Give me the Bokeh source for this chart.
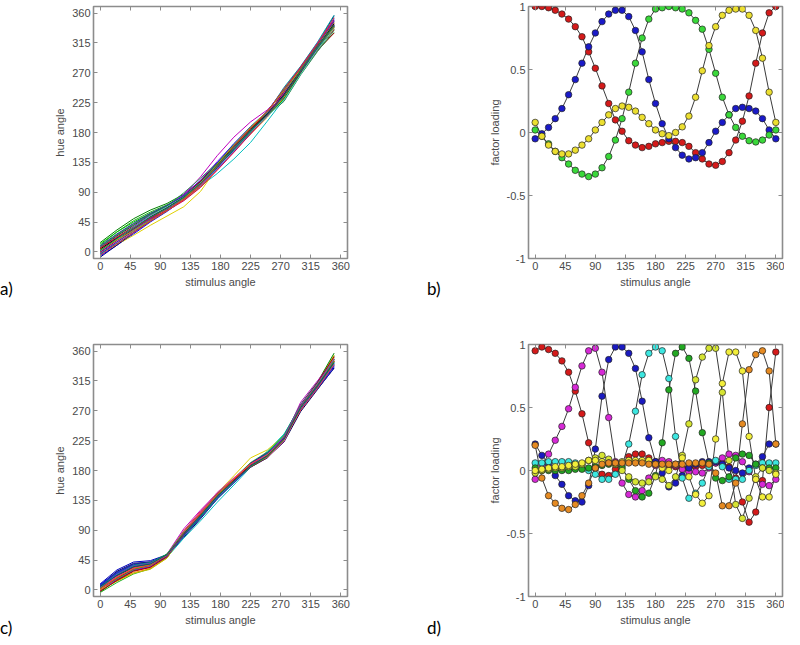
from bokeh.plotting import figure
from bokeh.layouts import column, row
from bokeh.models import FixedTicker, LinearAxis, NumeralTickFormatter, Range1d, Div
from bokeh.embed import file_html
from bokeh.resources import INLINE

# ---------------- data ----------------
angle_ticks = [0, 45, 90, 135, 180, 225, 270, 315, 360]
loading_ticks = [-1, -0.5, 0, 0.5, 1]
panel_names = ["a)", "b)", "c)", "d)"]

# panel a / c: individual hue-angle curves, sampled every 25 deg of stimulus angle
stim_curve = [0, 25, 50, 75, 100, 125, 150, 175, 200, 225, 250, 275, 300, 325, 350]

hue_a = [
    [14, 33, 50, 63, 73, 87, 107, 133, 159, 184, 207, 229, 270, 305, 336],
    [10, 30, 47, 60, 71, 85, 105, 131, 158, 184, 208, 236, 273, 309, 342],
    [-6, 10, 27, 45, 61, 79, 102, 131, 160, 187, 212, 246, 279, 315, 350],
    [2, 19, 35, 51, 65, 82, 104, 132, 160, 186, 210, 238, 273, 308, 335],
    [0, 17, 33, 50, 65, 86, 113, 145, 173, 196, 214, 240, 272, 309, 343],
    [5, 21, 37, 53, 68, 83, 99, 118, 140, 165, 197, 230, 271, 307, 340],
    [-2, 11, 25, 40, 54, 68, 91, 127, 156, 183, 210, 245, 277, 312, 345],
    [6, 24, 40, 56, 69, 85, 106, 132, 158, 183, 205, 232, 270, 306, 339],
    [1, 18, 34, 51, 66, 83, 104, 129, 155, 180, 204, 234, 273, 311, 348],
    [-8, 10, 29, 47, 63, 80, 101, 127, 154, 181, 206, 242, 276, 314, 356],
    [4, 22, 38, 54, 67, 80, 99, 124, 151, 178, 204, 238, 276, 312, 338],
    [8, 26, 42, 57, 70, 85, 105, 131, 157, 182, 205, 228, 268, 303, 331],
    [3, 21, 38, 55, 69, 86, 108, 136, 163, 188, 210, 237, 272, 307, 341],
    [-4, 15, 32, 49, 64, 78, 98, 128, 156, 184, 210, 248, 280, 316, 357],
    [5, 22, 37, 52, 63, 78, 98, 124, 151, 178, 203, 233, 273, 310, 346],
    [0, 18, 35, 51, 66, 84, 106, 134, 161, 186, 208, 236, 270, 304, 330],
    [7, 25, 41, 56, 69, 89, 111, 134, 159, 183, 205, 227, 267, 302, 334],
    [2, 19, 36, 52, 66, 81, 100, 125, 152, 179, 205, 240, 277, 315, 352],
    [-1, 15, 31, 48, 63, 80, 102, 130, 159, 187, 212, 244, 276, 310, 340],
    [4, 21, 37, 53, 67, 83, 104, 131, 158, 184, 208, 237, 274, 309, 344],
    [12, 30, 45, 58, 69, 83, 103, 128, 154, 180, 204, 231, 269, 306, 340],
    [-3, 13, 29, 46, 62, 80, 104, 134, 163, 189, 212, 244, 278, 313, 347],
    [6, 22, 36, 50, 62, 77, 97, 123, 150, 178, 205, 241, 279, 314, 349],
    [1, 19, 37, 54, 68, 84, 104, 130, 156, 181, 204, 229, 268, 305, 337],
    [3, 18, 32, 47, 62, 80, 103, 132, 161, 188, 212, 243, 275, 309, 339],
    [9, 27, 43, 58, 70, 84, 103, 128, 155, 182, 207, 235, 272, 308, 341],
    [-5, 12, 29, 46, 62, 79, 101, 129, 158, 186, 211, 246, 278, 314, 353],
    [2, 20, 36, 52, 66, 82, 103, 130, 157, 183, 207, 236, 274, 310, 342],
]

hue_c = [
    [9, 30, 42, 44, 53, 82, 109, 139, 163, 186, 202, 225, 271, 305, 339],
    [7, 28, 40, 42, 51, 79, 107, 137, 162, 185, 200, 223, 269, 302, 335],
    [-4, 11, 24, 32, 49, 86, 115, 144, 167, 190, 206, 231, 278, 312, 353],
    [2, 16, 29, 34, 52, 89, 118, 146, 168, 191, 205, 230, 279, 310, 347],
    [-1, 14, 26, 32, 48, 87, 117, 145, 167, 190, 205, 229, 275, 307, 344],
    [5, 21, 34, 39, 49, 78, 104, 132, 158, 185, 209, 235, 277, 309, 343],
    [1, 18, 32, 39, 54, 87, 115, 146, 172, 199, 211, 232, 277, 311, 354],
    [3, 21, 34, 39, 53, 86, 114, 142, 165, 188, 202, 227, 275, 309, 348],
    [6, 24, 36, 40, 52, 83, 111, 140, 163, 186, 200, 225, 273, 308, 342],
    [-3, 15, 29, 35, 51, 87, 116, 145, 167, 190, 205, 230, 279, 313, 357],
    [2, 19, 32, 37, 54, 92, 120, 146, 165, 185, 199, 229, 283, 315, 348],
    [8, 26, 38, 41, 52, 82, 110, 140, 165, 190, 206, 230, 272, 304, 337],
    [1, 18, 31, 37, 52, 85, 113, 142, 165, 187, 201, 226, 273, 307, 345],
    [4, 22, 35, 39, 54, 88, 116, 145, 168, 192, 208, 233, 278, 310, 350],
    [3, 21, 34, 38, 50, 82, 110, 139, 162, 185, 199, 224, 272, 306, 340],
    [-1, 16, 30, 35, 50, 86, 116, 144, 167, 190, 204, 229, 277, 311, 351],
    [5, 25, 37, 41, 52, 82, 110, 139, 163, 187, 203, 226, 273, 306, 342],
    [2, 19, 33, 38, 52, 85, 113, 142, 165, 188, 203, 228, 275, 308, 345],
    [6, 27, 39, 42, 53, 83, 111, 141, 166, 191, 207, 229, 272, 303, 334],
    [0, 13, 25, 31, 48, 84, 113, 143, 167, 189, 202, 226, 275, 310, 350],
    [4, 20, 32, 37, 53, 88, 117, 147, 169, 189, 200, 224, 274, 309, 346],
    [3, 23, 37, 41, 54, 84, 110, 138, 162, 187, 206, 233, 280, 313, 347],
    [-2, 14, 28, 34, 50, 84, 114, 144, 166, 188, 203, 230, 279, 312, 352],
    [7, 25, 36, 39, 51, 81, 108, 137, 161, 186, 204, 228, 272, 305, 339],
    [2, 17, 31, 37, 53, 87, 115, 143, 164, 186, 201, 227, 276, 309, 345],
    [4, 23, 36, 40, 52, 85, 112, 140, 163, 187, 204, 231, 279, 311, 348],
    [1, 19, 33, 38, 52, 86, 115, 144, 167, 190, 204, 227, 271, 304, 340],
    [5, 22, 35, 39, 53, 85, 112, 141, 164, 187, 202, 227, 275, 308, 343],
]

curve_colors_a = ["#008000", "#20b020", "#0000ff", "#ff0000", "#c000c0", "#00bfbf",
                  "#e0d000", "#202020", "#1f3fbf", "#000080", "#c02020", "#40a040",
                  "#7f00ff", "#00a0a0", "#ff7f00", "#a00000", "#2e8b57", "#4060ff",
                  "#8b008b", "#000000", "#00c000", "#0050c0", "#d00060", "#60c0c0",
                  "#b0b000", "#3030a0", "#e03030", "#208040"]
curve_colors_c = ["#0000c0", "#000060", "#20b020", "#ff0000", "#ff8000", "#00c0c0",
                  "#e0d000", "#202020", "#3050ff", "#008000", "#c000c0", "#0000ff",
                  "#a00000", "#40c040", "#404040", "#7f00ff", "#0070a0", "#d02020",
                  "#1f1fa0", "#c0c000", "#e040a0", "#00a060", "#b00000", "#2040c0",
                  "#60a000", "#8040c0", "#ff4040", "#006060"]

# panel b / d: factor loadings every 10 deg
stim_pts = [0, 10, 20, 30, 40, 50, 60, 70, 80, 90, 100, 110, 120, 130, 140, 150, 160, 170,
            180, 190, 200, 210, 220, 230, 240, 250, 260, 270, 280, 290, 300, 310, 320, 330,
            340, 350, 360]

red_b = [1.00, 1.00, 0.99, 0.97, 0.94, 0.90, 0.84, 0.76, 0.64, 0.51, 0.37, 0.23, 0.10, 0.01,
         -0.065, -0.10, -0.12, -0.11, -0.09, -0.08, -0.07, -0.07, -0.08, -0.11, -0.16, -0.21,
         -0.25, -0.26, -0.23, -0.16, -0.06, 0.09, 0.29, 0.55, 0.79, 0.95, 1.00]
blue_b = [-0.05, -0.01, 0.04, 0.11, 0.19, 0.30, 0.42, 0.55, 0.68, 0.79, 0.88, 0.94, 0.97, 0.97,
          0.92, 0.81, 0.64, 0.42, 0.23, 0.07, -0.05, -0.12, -0.18, -0.21, -0.20, -0.16, -0.08,
          0.01, 0.08, 0.14, 0.19, 0.20, 0.19, 0.17, 0.11, 0.02, -0.05]
green_b = [0.02, -0.03, -0.09, -0.15, -0.20, -0.25, -0.30, -0.33, -0.35, -0.33, -0.28, -0.19,
           -0.06, 0.11, 0.32, 0.55, 0.75, 0.90, 0.98, 0.99, 1.00, 0.99, 0.98, 0.95, 0.89, 0.82,
           0.66, 0.47, 0.28, 0.14, 0.04, -0.03, -0.065, -0.075, -0.06, -0.02, 0.02]
yellow_b = [0.08, -0.03, -0.10, -0.15, -0.17, -0.17, -0.14, -0.10, -0.05, 0.02, 0.08, 0.14,
            0.19, 0.21, 0.20, 0.17, 0.12, 0.07, 0.02, -0.01, -0.025, 0.00, 0.045, 0.13, 0.28,
            0.49, 0.69, 0.84, 0.93, 0.97, 0.98, 0.98, 0.93, 0.81, 0.59, 0.32, 0.08]

red_d = [0.95, 0.98, 0.96, 0.93, 0.87, 0.78, 0.63, 0.45, 0.22, 0.02, -0.03, -0.04, 0.01, 0.06,
         0.11, 0.13, 0.13, 0.10, 0.07, 0.05, 0.04, 0.03, 0.02, 0.02, 0.03, 0.04, 0.05, 0.06,
         0.06, 0.03, -0.06, -0.25, -0.41, -0.33, -0.08, 0.50, 0.94]
magenta_d = [-0.07, 0.04, 0.13, 0.24, 0.35, 0.49, 0.66, 0.83, 0.95, 0.97, 0.78, 0.42, 0.07,
             -0.10, -0.19, -0.21, -0.16, -0.06, 0.04, 0.08, 0.07, 0.04, 0.01, -0.01, -0.01,
             -0.02, 0.02, 0.06, 0.10, 0.13, 0.12, 0.07, -0.01, -0.07, -0.11, -0.12, -0.07]
blue_d = [0.21, 0.12, 0.05, -0.04, -0.11, -0.20, -0.24, -0.25, -0.12, 0.17, 0.59, 0.88, 0.98,
          0.98, 0.93, 0.81, 0.55, 0.26, 0.07, -0.02, -0.13, -0.10, -0.04, 0.02, 0.05, 0.07,
          0.07, 0.07, 0.05, 0.02, 0.00, -0.02, 0.02, 0.05, 0.11, 0.21, 0.21]
cyan_d = [0.06, 0.06, 0.07, 0.07, 0.07, 0.07, 0.06, 0.04, 0.00, -0.03, -0.07, -0.07, -0.03,
          0.04, 0.21, 0.47, 0.76, 0.93, 0.98, 0.95, 0.73, 0.27, -0.06, -0.22, -0.18, -0.10,
          0.03, 0.08, 0.03, -0.07, -0.07, -0.07, 0.00, 0.04, 0.06, 0.06, 0.06]
green_d = [0.02, 0.00, 0.00, 0.00, 0.00, 0.00, 0.01, 0.01, 0.02, 0.03, 0.04, 0.05, 0.05, 0.02,
           -0.07, -0.16, -0.21, -0.18, -0.04, 0.22, 0.64, 0.93, 0.98, 0.89, 0.63, 0.30, 0.06,
           -0.06, -0.08, -0.05, 0.10, 0.13, 0.12, 0.05, 0.02, 0.02, 0.02]
yellow1_d = [-0.02, 0.00, 0.01, 0.02, 0.02, 0.03, 0.03, 0.05, 0.08, 0.10, 0.12, 0.09, 0.05,
             0.00, -0.05, -0.09, -0.10, -0.09, -0.05, -0.07, -0.12, -0.05, 0.12, 0.37, 0.72,
             0.90, 0.97, 0.97, 0.62, 0.08, -0.27, -0.38, -0.22, -0.05, 0.02, 0.00, -0.02]
yellow2_d = [0.00, 0.01, 0.02, 0.03, 0.03, 0.04, 0.05, 0.06, 0.08, 0.08, 0.07, 0.06, 0.06,
             0.07, 0.08, 0.08, 0.08, 0.08, 0.05, 0.02, 0.00, 0.05, 0.10, -0.05, -0.19, -0.26,
             -0.20, 0.25, 0.69, 0.94, 0.94, 0.79, 0.27, -0.07, -0.21, -0.21, -0.03]
orange_d = [0.20, -0.06, -0.20, -0.26, -0.30, -0.31, -0.27, -0.20, -0.10, 0.02, 0.05, 0.06,
            0.06, 0.06, 0.06, 0.06, 0.06, 0.05, 0.05, 0.05, 0.05, 0.05, 0.05, 0.06, 0.06, 0.06,
            0.05, -0.02, -0.28, -0.28, -0.10, 0.37, 0.80, 0.92, 0.95, 0.79, 0.21]

factors_b = [(red_b, "#d41a1a"), (blue_b, "#1a1ac8"), (green_b, "#3ad83a"), (yellow_b, "#ecdf30")]
factors_d = [(red_d, "#d41a1a"), (magenta_d, "#d629d6"), (blue_d, "#1a1ac0"),
             (cyan_d, "#3ce6e0"), (green_d, "#22a822"), (yellow1_d, "#d6e432"),
             (yellow2_d, "#f2ee3a"), (orange_d, "#e58a22")]

# ---------------- styling ----------------
AX_FONT = "Liberation Sans"
TXT = "#4a4a4a"
FRAME = "#8c8c8c"


def make_fig(w, h, bl, br, bt, bb, yr, yticks, ylabel, loading=False):
    p = figure(width=w, height=h, output_backend="svg", toolbar_location=None,
               x_range=Range1d(-10, 370), y_range=yr,
               min_border_left=bl, min_border_right=br, min_border_top=bt,
               min_border_bottom=bb, background_fill_color="white",
               border_fill_color="white")
    p.grid.visible = False
    p.outline_line_color = FRAME
    p.outline_line_width = 1.6
    for ax, tks in ((p.xaxis[0], angle_ticks), (p.yaxis[0], yticks)):
        ax.ticker = FixedTicker(ticks=tks)
        ax.axis_line_color = None
        ax.major_tick_in = 4
        ax.major_tick_out = 0
        ax.major_tick_line_color = FRAME
        ax.minor_tick_line_color = None
        ax.major_label_text_font = AX_FONT
        ax.major_label_text_font_size = "11px"
        ax.major_label_text_color = TXT
        ax.major_label_standoff = 3
        ax.axis_label_text_font = AX_FONT
        ax.axis_label_text_font_size = "11px"
        ax.axis_label_text_font_style = "normal"
        ax.axis_label_text_color = TXT
        ax.axis_label_standoff = 3
    if loading:
        p.yaxis[0].formatter = NumeralTickFormatter(format="0.[0]")
    p.xaxis[0].axis_label = "stimulus angle"
    p.yaxis[0].axis_label = ylabel
    # inward ticks on the top and right edges of the box (no labels drawn)
    for side, tks in (("right", yticks), ("above", angle_ticks)):
        ax = LinearAxis(ticker=FixedTicker(ticks=tks), axis_line_color=None,
                        major_tick_in=4, major_tick_out=0, major_tick_line_color=FRAME,
                        minor_tick_line_color=None, major_label_text_font_size="1px",
                        major_label_text_color=None, major_label_standoff=0)
        p.add_layout(ax, side)
    return p


def panel_label(text, w, h, pad_left, pad_top):
    html = ('<div style="padding-left:%dpx;padding-top:%dpx;font-family:Lato;'
            'font-size:17px;line-height:17px;color:black;white-space:nowrap">%s</div>'
            % (pad_left, pad_top, text))
    return Div(text=html, width=w, height=h, margin=0)


TOP_H, BOT_H = 338, 298
fa = make_fig(372, TOP_H, 73, 45, 6, 80, Range1d(-10, 370), angle_ticks, "hue angle")
fb = make_fig(340, TOP_H, 84, 2, 6, 80, Range1d(-1, 1), loading_ticks, "factor loading",
              loading=True)
fc = make_fig(372, BOT_H, 73, 45, 6, 40, Range1d(-10, 370), angle_ticks, "hue angle")
fd = make_fig(340, BOT_H, 84, 2, 6, 40, Range1d(-1, 1), loading_ticks, "factor loading",
              loading=True)

for i, ys in enumerate(hue_a):
    fa.line(stim_curve, ys, line_color=curve_colors_a[i % len(curve_colors_a)], line_width=1)
for i, ys in enumerate(hue_c):
    fc.line(stim_curve, ys, line_color=curve_colors_c[i % len(curve_colors_c)], line_width=1)

for p, facs in ((fb, factors_b), (fd, factors_d)):
    for ys, col in facs:
        p.line(stim_pts, ys, line_color="#3a3a3a", line_width=1)
    for ys, col in facs:
        p.scatter(stim_pts, ys, size=6.5, fill_color=col, line_color="#222222",
                  line_width=0.7)

la = panel_label(panel_names[0], 20, TOP_H, 0, 280)
lb = panel_label(panel_names[1], 52, TOP_H, 35, 280)
lc = panel_label(panel_names[2], 20, BOT_H, 0, 281)
ld = panel_label(panel_names[3], 52, BOT_H, 35, 281)

layout = column(row(la, fa, lb, fb, spacing=0), row(lc, fc, ld, fd, spacing=0), spacing=0)

with open("out.html", "w") as f:
    f.write(file_html(layout, INLINE))
